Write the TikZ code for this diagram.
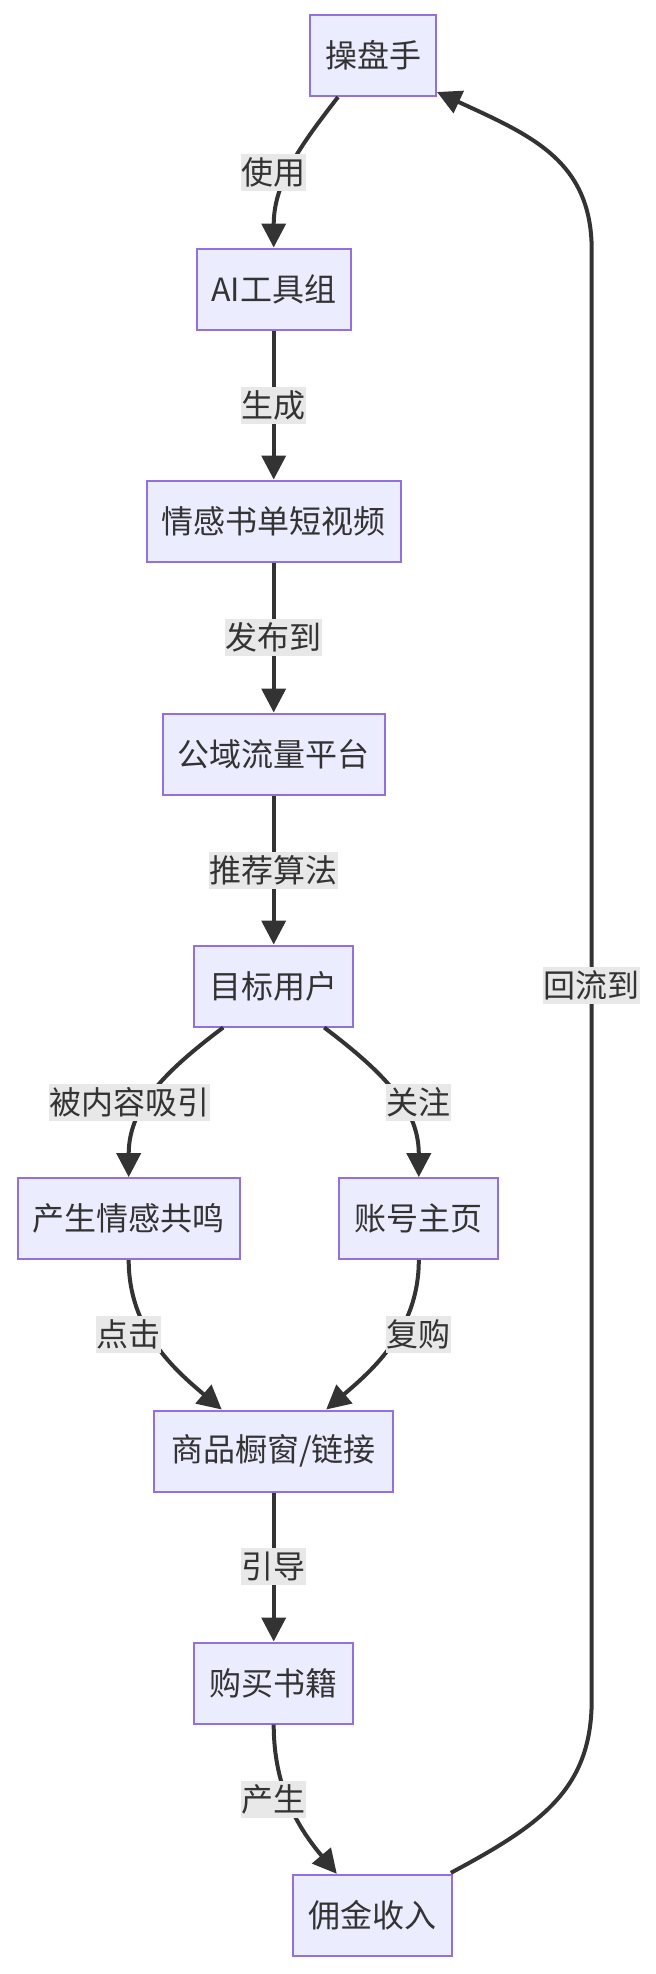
\documentclass[tikz,border=0pt]{standalone}
\usepackage{fontspec}
\newfontfamily\cjk{Noto Sans CJK SC}
\usetikzlibrary{arrows.meta,calc}
\definecolor{nodefill}{HTML}{ECECFF}
\definecolor{nodeborder}{HTML}{9370DB}
\definecolor{edgecol}{HTML}{333333}
\definecolor{labelbg}{HTML}{E8E8E8}
\definecolor{txt}{HTML}{333333}
\tikzset{
  box/.style={draw=nodeborder, fill=nodefill, line width=2pt, minimum height=81pt, inner sep=0pt,
    text=txt, font=\cjk\fontsize{32}{38}\selectfont},
  elabel/.style={fill=labelbg, inner xsep=0.5pt, inner ysep=0pt, minimum height=37pt,
    text=txt, font=\cjk\fontsize{32}{38}\selectfont},
  conn/.style={draw=edgecol, line width=4pt, -{Triangle[length=24pt,width=24pt]}},
}
\begin{document}
\begin{tikzpicture}[x=1pt,y=-1pt]
\useasboundingbox (0,0) rectangle (656,1974);
% nodes
\node[box, minimum width=126pt] (A) at (373,55.5) {操盘手};
\node[box, minimum width=154pt] (B) at (273.7,289) {AI工具组};
\node[box, minimum width=254pt] (C) at (273.7,521) {情感书单短视频};
\node[box, minimum width=222pt] (D) at (273.7,754) {公域流量平台};
\node[box, minimum width=159pt] (E) at (273.7,986) {目标用户};
\node[box, minimum width=222pt] (F) at (128.7,1218.6) {产生情感共鸣};
\node[box, minimum width=159pt] (G) at (418.8,1218.6) {账号主页};
\node[box, minimum width=239pt] (H) at (273.7,1451) {商品橱窗/链接};
\node[box, minimum width=159pt] (I) at (273.7,1683) {购买书籍};
\node[box, minimum width=159pt] (J) at (372.4,1915.3) {佣金收入};
% connectors
\draw[conn] ($(A.south)+(-35,0)$) .. controls (305,140) and (273.7,180) .. (B.north);
\draw[conn] (B) -- (C);
\draw[conn] (C) -- (D);
\draw[conn] (D) -- (E);
\draw[conn] ($(E.south)+(-50.5,0)$) .. controls (160,1075) and (128.7,1110) .. (F.north);
\draw[conn] ($(E.south)+(50.5,0)$) .. controls (387,1075) and (418.8,1110) .. (G.north);
\draw[conn] (F.south) .. controls (128.7,1330) and (175,1370) .. ($(H.north)+(-52,0)$);
\draw[conn] (G.south) .. controls (418.8,1330) and (372.5,1370) .. ($(H.north)+(52.5,0)$);
\draw[conn] (H) -- (I);
\draw[conn] (I.south) .. controls (273.7,1790) and (300,1830) .. ($(J.north)+(-35.6,0)$);
\draw[conn] ($(J.north east)+(-2,-1)$) .. controls (540,1825) and (591.7,1790) .. (591.7,1700)
  -- (591.7,250) .. controls (591.7,160) and (530,135) .. ($(A.south east)+(0,-5)$);
% edge labels
\node[elabel] (l1) at (273.7,172) {使用};
\node[elabel] (l2) at (273.7,405) {生成};
\node[elabel] (l3) at (273.7,637.5) {发布到};
\node[elabel] (l4) at (273.7,870) {推荐算法};
\node[elabel] (l5) at (129,1102.5) {被内容吸引};
\node[elabel] (l6) at (418.8,1102.5) {关注};
\node[elabel] (l7) at (128.9,1334.5) {点击};
\node[elabel] (l8) at (418.8,1334.5) {复购};
\node[elabel] (l9) at (273.7,1566.5) {引导};
\node[elabel] (l10) at (273.7,1799) {产生};
\node[elabel] (l11) at (591.7,985.5) {回流到};
\end{tikzpicture}
\end{document}
